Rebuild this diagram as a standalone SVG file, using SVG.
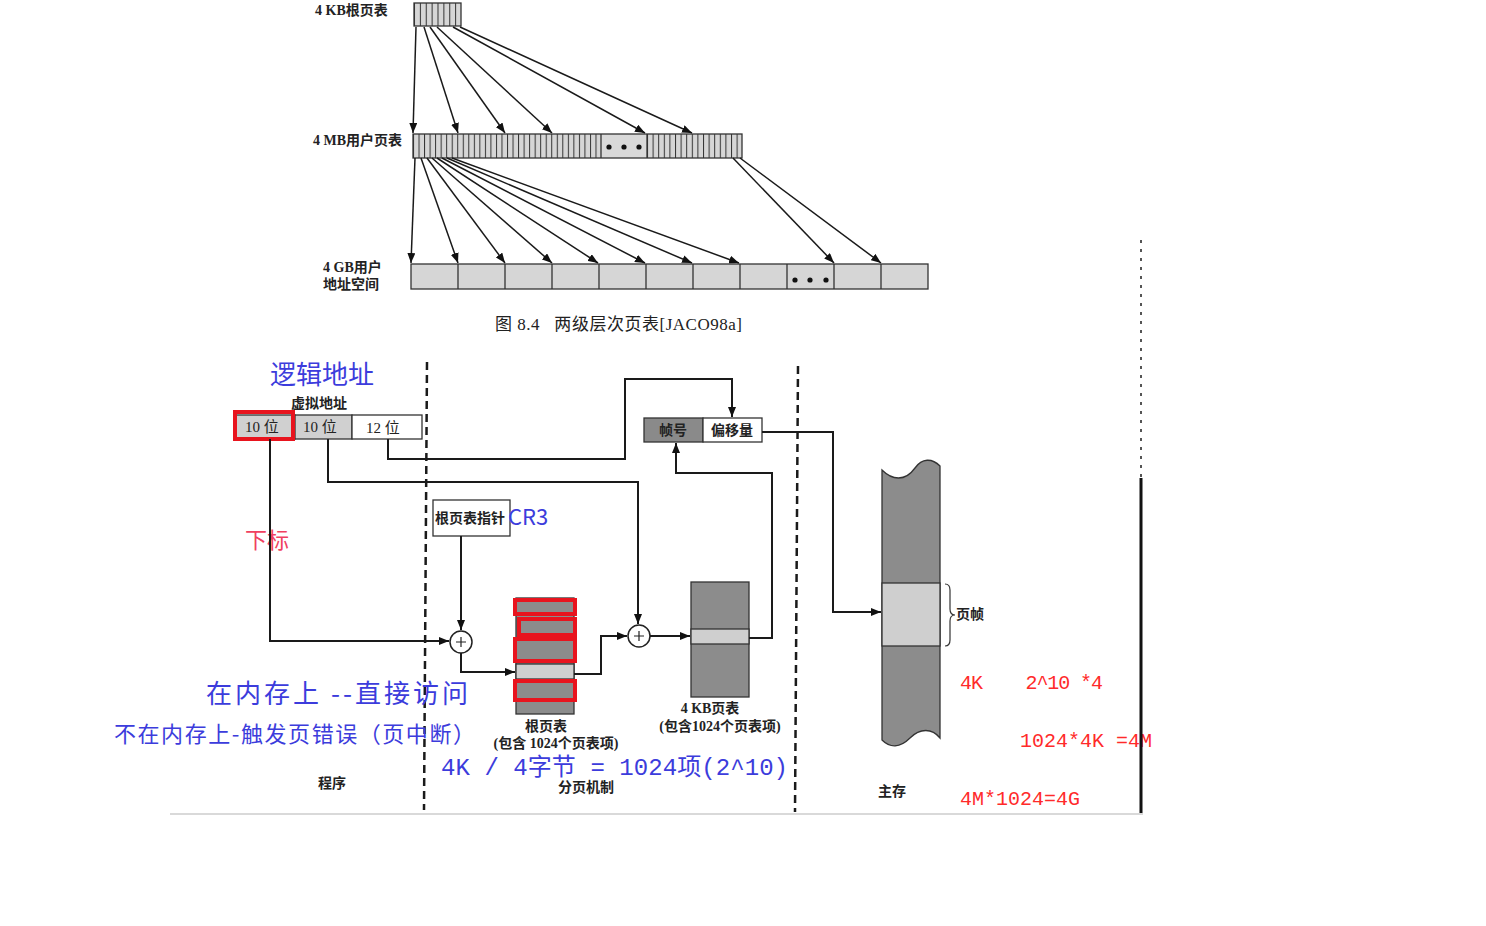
<svg xmlns="http://www.w3.org/2000/svg" width="1486" height="926" viewBox="0 0 1486 926">
<defs>
<marker id="ah" viewBox="0 0 10 8" refX="10" refY="4" markerWidth="10" markerHeight="8" markerUnits="userSpaceOnUse" orient="auto">
<path d="M0,0 L10,4 L0,8 Z" fill="#111"/>
</marker>
<pattern id="st1" x="414" y="0" width="5.875" height="10" patternUnits="userSpaceOnUse">
<rect width="5.875" height="10" fill="#d6d6d6"/><line x1="0.5" y1="0" x2="0.5" y2="10" stroke="#333" stroke-width="1"/>
</pattern>
<pattern id="st2" x="413" y="0" width="5.53" height="10" patternUnits="userSpaceOnUse">
<rect width="5.53" height="10" fill="#d6d6d6"/><line x1="0.5" y1="0" x2="0.5" y2="10" stroke="#333" stroke-width="1"/>
</pattern>
<pattern id="st3" x="647" y="0" width="5.6" height="10" patternUnits="userSpaceOnUse">
<rect width="5.6" height="10" fill="#d6d6d6"/><line x1="0.5" y1="0" x2="0.5" y2="10" stroke="#333" stroke-width="1"/>
</pattern>
</defs>
<style>
.t{font-family:"Liberation Serif","Noto Sans CJK SC",serif;fill:#222;}
.b{font-weight:bold;}
.blue{font-family:"Noto Sans CJK SC",sans-serif;fill:#3c3cdc;}
.red{font-family:"Liberation Mono","Noto Sans CJK SC",monospace;fill:#ff2a2a;}
.box{stroke:#333;stroke-width:1.3;}
.lnA{fill:none;stroke:#1a1a1a;stroke-width:2;marker-end:url(#ah);}
.thin{fill:none;stroke:#1a1a1a;stroke-width:1.5;marker-end:url(#ah);}
.dash{stroke:#1a1a1a;stroke-width:2.5;stroke-dasharray:8,5;fill:none;}
.redbox{fill:none;stroke:#e8141e;stroke-width:4;}
.dark{fill:#8c8c8c;}
.light{fill:#cfcfcf;}
</style>
<rect width="1486" height="926" fill="#ffffff"/>

<!-- ===== Top figure ===== -->
<g id="root-table-4kb">
<rect x="414" y="3" width="47" height="23" fill="url(#st1)" class="box"/>
<text class="t b" x="315" y="15" font-size="14">4 KB根页表</text>
</g>
<g id="user-page-table-4mb">
<rect x="413" y="134" width="188" height="24" fill="url(#st2)"/>
<rect x="601" y="134" width="46" height="24" fill="#d9d9d9"/>
<rect x="647" y="134" width="95" height="24" fill="url(#st3)"/>
<rect x="413" y="134" width="329" height="24" fill="none" class="box"/>
<line x1="601" y1="134" x2="601" y2="158" stroke="#333" stroke-width="1.3"/>
<line x1="647" y1="134" x2="647" y2="158" stroke="#333" stroke-width="1.3"/>
<circle cx="609" cy="147" r="2.6" fill="#111"/><circle cx="624" cy="147" r="2.6" fill="#111"/><circle cx="639" cy="147" r="2.6" fill="#111"/>
<text class="t b" x="313" y="145" font-size="14">4 MB用户页表</text>
</g>
<g id="user-address-space-4gb">
<rect x="411" y="264" width="517" height="25" fill="#d6d6d6" class="box"/>
<path d="M458,264V289M505,264V289M552,264V289M599,264V289M646,264V289M693,264V289M740,264V289M787,264V289M834,264V289M881,264V289" stroke="#333" stroke-width="1.3"/>
<circle cx="795" cy="280" r="2.6" fill="#111"/><circle cx="810" cy="280" r="2.6" fill="#111"/><circle cx="826" cy="280" r="2.6" fill="#111"/>
<text class="t b" x="323" y="272" font-size="14">4 GB用户</text>
<text class="t b" x="323" y="289" font-size="14">地址空间</text>
</g>
<g id="caption">
<text class="t" x="495" y="330" font-size="17" textLength="247" xml:space="preserve">图 8.4   两级层次页表[JACO98a]</text>
</g>

<g id="top-connectors">
<path class="thin" d="M416,27L413,133"/>
<path class="thin" d="M424,27L458,133"/>
<path class="thin" d="M430,27L505,133"/>
<path class="thin" d="M437,27L552,133"/>
<path class="thin" d="M453,27L645,133"/>
<path class="thin" d="M460,27L692,133"/>
<path class="thin" d="M415,158L411,263"/>
<path class="thin" d="M421,158L458,263"/>
<path class="thin" d="M427,158L505,263"/>
<path class="thin" d="M432,158L552,263"/>
<path class="thin" d="M437,158L598,263"/>
<path class="thin" d="M442,158L645,263"/>
<path class="thin" d="M447,158L692,263"/>
<path class="thin" d="M452,158L739,263"/>
<path class="thin" d="M733,158L834,263"/>
<path class="thin" d="M740,158L881,263"/>
</g>

<!-- ===== Bottom figure ===== -->
<g id="region-dividers">
<line class="dash" x1="427" y1="362" x2="424" y2="810"/>
<line class="dash" x1="798" y1="366" x2="795" y2="812"/>
</g>

<g id="virtual-address">
<text class="blue" x="270" y="384" font-size="26">逻辑地址</text>
<text class="t b" x="291" y="408" font-size="14">虚拟地址</text>
<rect x="235" y="415" width="60" height="24" fill="#d0d0d0" class="box"/>
<rect x="295" y="415" width="57" height="24" fill="#d0d0d0" class="box"/>
<rect x="352" y="415" width="70" height="24" fill="#ffffff" class="box"/>
<rect class="redbox" x="235" y="412" width="58" height="27"/>
<text class="t" x="245" y="432" font-size="15">10 位</text>
<text class="t" x="303" y="432" font-size="15">10 位</text>
<text class="t" x="366" y="433" font-size="15">12 位</text>
<text x="245" y="548" font-size="22" font-family="Noto Sans CJK SC,sans-serif" fill="#f04060">下标</text>
</g>

<g id="cr3">
<rect x="433" y="500" width="77" height="36" fill="#ffffff" class="box"/>
<text class="t b" x="435" y="523" font-size="14">根页表指针</text>
<text class="blue" x="508" y="525" font-size="22">CR3</text>
</g>

<g id="adder-1">
<circle cx="461" cy="642" r="11" fill="#fff" stroke="#222" stroke-width="1.5"/>
<path d="M456,642H466M461,637V647" stroke="#222" stroke-width="1.2"/>
</g>
<g id="adder-2">
<circle cx="639" cy="636" r="11" fill="#fff" stroke="#222" stroke-width="1.5"/>
<path d="M634,636H644M639,631V641" stroke="#222" stroke-width="1.2"/>
</g>

<g id="root-page-table">
<rect x="516" y="598" width="58" height="116" class="dark box"/>
<rect x="516" y="664" width="58" height="15" class="light box"/>
<rect class="redbox" x="515" y="600" width="60" height="14"/>
<rect class="redbox" x="519" y="619" width="56" height="16"/>
<rect class="redbox" x="515" y="639" width="60" height="22"/>
<rect class="redbox" x="515" y="681" width="60" height="19"/>
<text class="t b" x="546" y="731" font-size="14" text-anchor="middle">根页表</text>
<text class="t b" x="556" y="748" font-size="14" text-anchor="middle">(包含 1024个页表项)</text>
</g>

<g id="page-table-4kb">
<rect x="691" y="582" width="58" height="115" class="dark box"/>
<rect x="691" y="629" width="58" height="15" class="light box"/>
<text class="t b" x="710" y="713" font-size="14" text-anchor="middle">4 KB页表</text>
<text class="t b" x="720" y="731" font-size="14" text-anchor="middle">(包含1024个页表项)</text>
</g>

<g id="physical-address">
<rect x="644" y="418" width="59" height="24" fill="#8a8a8a" class="box"/>
<rect x="703" y="418" width="59" height="24" fill="#ffffff" class="box"/>
<text class="t b" x="673" y="435" font-size="14" text-anchor="middle">帧号</text>
<text class="t b" x="732" y="435" font-size="14" text-anchor="middle">偏移量</text>
</g>

<g id="main-memory">
<path d="M882,470 C892,480 905,482 915,468 C922,458 932,458 940,466 L940,738 C932,728 920,728 910,738 C900,748 890,748 882,740 Z" fill="#8c8c8c" stroke="#333" stroke-width="1.3"/>
<rect x="882" y="583" width="58" height="63" class="light box"/>
<path d="M945,584 Q950,584 950,590 L950,609 Q950,615 955,615 Q950,615 950,621 L950,640 Q950,646 945,646" fill="none" stroke="#333" stroke-width="1.2"/>
<text class="t b" x="956" y="619" font-size="14">页帧</text>
<text class="t b" x="878" y="796" font-size="14">主存</text>
</g>

<g id="labels">
<text class="t b" x="318" y="788" font-size="14">程序</text>
<text class="t b" x="558" y="792" font-size="14">分页机制</text>
<text class="blue" x="206" y="703" font-size="26" textLength="262">在内存上 --直接访问</text>
<text class="blue" x="114" y="742" font-size="22" textLength="361">不在内存上-触发页错误（页中断）</text>
<text class="blue" x="441" y="775" font-size="24" textLength="347" style="font-family:'Liberation Mono','Noto Sans CJK SC',monospace">4K / 4字节 = 1024项(2^10)</text>
<text class="red" x="960" y="689" font-size="20" textLength="143" xml:space="preserve">4K    2^10 *4</text>
<text class="red" x="1020" y="747" font-size="20" xml:space="preserve">1024*4K =4M</text>
<text class="red" x="960" y="805" font-size="20">4M*1024=4G</text>
</g>

<g id="connectors">
<path class="lnA" d="M270,439 L270,641 L449,641"/>
<path class="lnA" d="M328,439 L328,482 L638,482 L638,624"/>
<path class="lnA" d="M388,439 L388,459 L625,459 L625,379 L732,379 L732,417"/>
<path class="lnA" d="M461,536 L461,630"/>
<path class="lnA" d="M461,653 L461,672 L515,672"/>
<path class="lnA" d="M574,674 L601,674 L601,636 L627,636"/>
<path class="lnA" d="M650,636 L690,636"/>
<path class="lnA" d="M749,638 L772,638 L772,473 L676,473 L676,443"/>
<path class="lnA" d="M762,432 L833,432 L833,612 L881,612"/>
</g>

<g id="scan-border">
<line x1="1141" y1="240" x2="1141" y2="478" stroke="#555" stroke-width="2" stroke-dasharray="3,6"/>
<line x1="1141" y1="478" x2="1141" y2="813" stroke="#111" stroke-width="3"/>
<line x1="170" y1="814" x2="1143" y2="814" stroke="#cccccc" stroke-width="1.5"/>
</g>
</svg>
